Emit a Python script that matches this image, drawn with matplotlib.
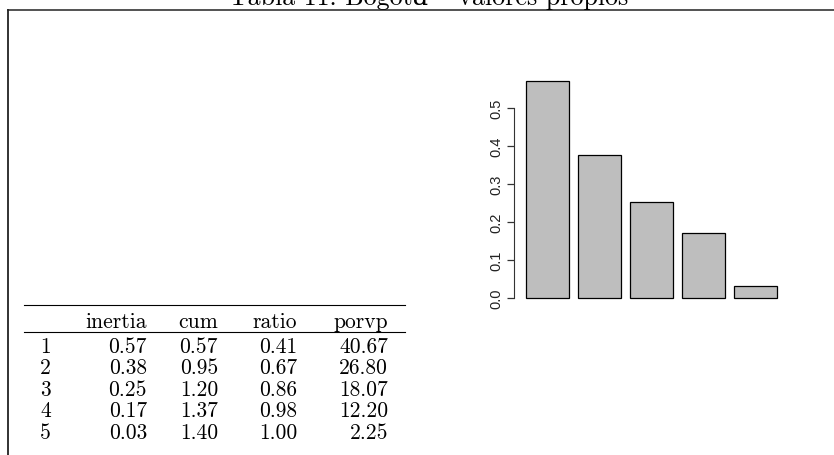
import matplotlib
matplotlib.use("Agg")
import matplotlib.pyplot as plt
from matplotlib.lines import Line2D

# valeurs propres
dims = ["1", "2", "3", "4", "5"]
inertia = [0.57, 0.38, 0.25, 0.17, 0.03]
cum = [0.57, 0.95, 1.20, 1.37, 1.40]
ratio = [0.41, 0.67, 0.86, 0.98, 1.00]
porvp = [40.67, 26.80, 18.07, 12.20, 2.25]
col_names = ["inertia", "cum", "ratio", "porvp"]

# hauteurs des barres
bar_heights = [0.571, 0.376, 0.253, 0.171, 0.032]
y_ticks = [0.0, 0.1, 0.2, 0.3, 0.4, 0.5]

title = "Tabla 11. Bogotá – valores propios"

serif = ["cmr10", "DejaVu Serif"]
W, H = 834, 456

fig = plt.figure(figsize=(W / 100, H / 100), dpi=100)

# cadre + titre (coupé en haut comme dans l'original)
fig.add_artist(Line2D([8/W, 1], [1 - 11/H, 1 - 11/H], color="#444444", lw=1.3))
fig.add_artist(Line2D([8/W, 8/W], [0, 1 - 11/H], color="#222222", lw=1.3))
fig.text(429/W, 1 - 4.5/H, title, ha="center", va="baseline",
         fontsize=18.7, family=serif)

# tableau (coordonnées en pixels)
tab = fig.add_axes([0, 0, 1, 1])
tab.set_xlim(0, W)
tab.set_ylim(H, 0)
tab.axis("off")

tab.plot([24, 405], [306, 306], color="black", lw=0.8)
tab.plot([24, 405], [333, 333], color="black", lw=0.8)

col_right = [147, 218, 297, 388]
fs = 15.5
for name, xr in zip(col_names, col_right):
    tab.text(xr, 328, name, ha="right", va="baseline", fontsize=fs, family=serif)

columns = [inertia, cum, ratio, porvp]
for i, d in enumerate(dims):
    yb = 353 + i * 21.5
    tab.text(40, yb, d, ha="left", va="baseline", fontsize=fs, family=serif)
    for col, xr in zip(columns, col_right):
        tab.text(xr, yb, "%.2f" % col[i], ha="right", va="baseline", fontsize=fs, family=serif)

# barplot façon R (width=1, space=0.2)
px_unit = 43.33          # pixels par unité en x
px_y = 380.0             # pixels par unité en y
y0, y1 = -0.0228, 0.594
ax_left, ax_w = 514, W - 514
ax = fig.add_axes([ax_left / W, 1 - (299 - y0 * px_y) / H, ax_w / W, (y1 - y0) * px_y / H])
x = [0.7 + 1.2 * i for i in range(len(bar_heights))]
ax.bar(x, bar_heights, width=1.0, color="#BEBEBE", edgecolor="black", linewidth=0.9)
x0 = -0.08
ax.set_xlim(x0, x0 + ax_w / px_unit)
ax.set_ylim(y0, y1)
for s in ["top", "right", "bottom"]:
    ax.spines[s].set_visible(False)
ax.spines["left"].set_bounds(0, 0.5)
ax.spines["left"].set_color("#333333")
ax.set_xticks([])
ax.set_yticks(y_ticks)
ax.set_yticklabels(["%.1f" % t for t in y_ticks], rotation=90, va="center",
                   family="Liberation Sans", fontsize=10.5, color="#222222")
ax.tick_params(axis="y", length=5, width=0.9, color="#333333", pad=3)
ax.patch.set_alpha(0)

plt.savefig("out.png", dpi=100)
